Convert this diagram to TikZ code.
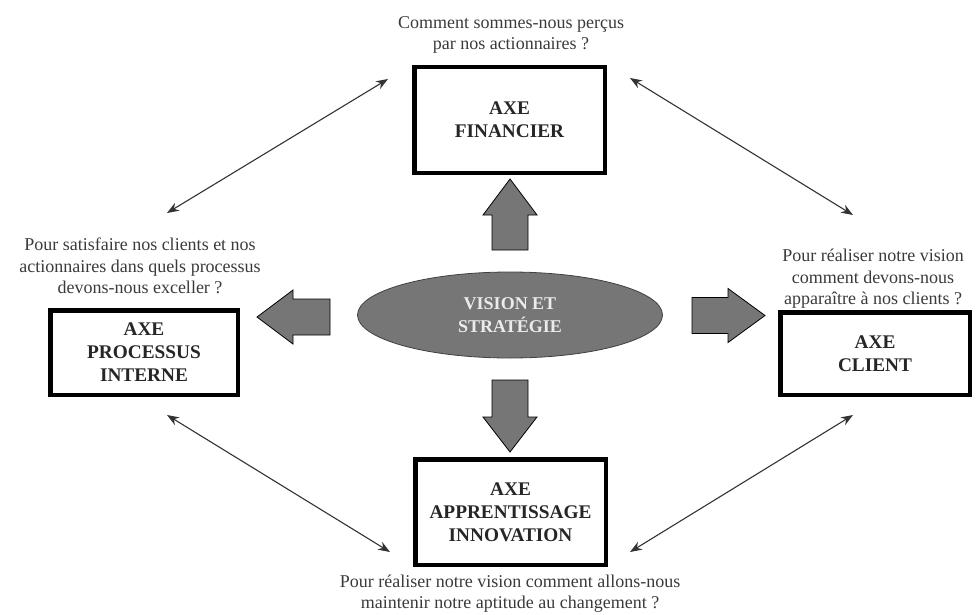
\documentclass[tikz,border=0pt]{standalone}
\usepackage{fontspec}
\setmainfont{Liberation Serif}
\usetikzlibrary{arrows.meta,shapes.geometric}
\definecolor{fatgray}{HTML}{767676}
\definecolor{txtgray}{HTML}{3A3A3A}
\begin{document}
\begin{tikzpicture}[x=1pt,y=-1pt,
  axebox/.style={draw=black, line width=4.5pt, fill=white, align=center,
    font=\bfseries\fontsize{19.3}{23}\selectfont, text=black!85, inner sep=0pt},
  question/.style={align=center, font=\fontsize{18}{21.5}\selectfont, text=txtgray, inner sep=0pt},
  fat/.style={fill=fatgray, draw=black, line width=0.8pt, line join=miter},
  link/.style={draw=black!80, line width=1.1pt,
    {Stealth[length=12pt,width=9pt]}-{Stealth[length=12pt,width=9pt]}}]
\useasboundingbox (0,0) rectangle (976,615);

% axis boxes
\node[axebox, minimum width=190.5pt, minimum height=105.5pt] (fin) at (509.5,120) {AXE\\FINANCIER};
\node[axebox, minimum width=190.5pt, minimum height=105.5pt] (app) at (510.5,512) {AXE\\APPRENTISSAGE\\INNOVATION};
\node[axebox, minimum width=187.5pt, minimum height=84.5pt] (proc) at (144,352.5) {AXE\\PROCESSUS\\INTERNE};
\node[axebox, minimum width=189.5pt, minimum height=82.5pt] (cli) at (875,353.5) {AXE\\CLIENT};

% centre
\node[ellipse, minimum width=305pt, minimum height=86pt, inner sep=0pt,
  fill=fatgray, draw=black!75, line width=0.8pt, align=center,
  text=white!92!black, font=\bfseries\fontsize{18}{23}\selectfont] (vis) at (510,315) {VISION ET\\STRATÉGIE};

% questions
\node[question] (qfin) at (511,35) {Comment sommes-nous perçus\\par nos actionnaires~?};
\node[question] (qproc) at (140,266) {Pour satisfaire nos clients et nos\\actionnaires dans quels processus\\devons-nous exceller~?};
\node[question] (qcli) at (873,279) {Pour réaliser notre vision\\comment devons-nous\\apparaître à nos clients~?};
\node[question] (qapp) at (510,593.5) {Pour réaliser notre vision comment allons-nous\\maintenir notre aptitude au changement~?};

% fat arrows
\draw[fat] (492,250) -- (492,215) -- (483,215) -- (510,179) -- (537,215) -- (528,215) -- (528,250) -- cycle;
\draw[fat] (492,380) -- (492,417) -- (483,417) -- (510,452) -- (537,417) -- (528,417) -- (528,380) -- cycle;
\draw[fat] (692,297.5) -- (728,297.5) -- (728,288.5) -- (765,315.5) -- (728,342.5) -- (728,333.5) -- (692,333.5) -- cycle;
\draw[fat] (330,299) -- (293,299) -- (293,290) -- (257,317) -- (293,344) -- (293,335) -- (330,335) -- cycle;

% thin double arrows
\coordinate (tlA) at (167,213);
\coordinate (tlB) at (388,79);
\coordinate (trA) at (630,78);
\coordinate (trB) at (853,215);
\coordinate (blA) at (167,415);
\coordinate (blB) at (390,552);
\coordinate (brA) at (630,552);
\coordinate (brB) at (853,415);
\draw[link] (tlA) -- (tlB);
\draw[link] (trA) -- (trB);
\draw[link] (blA) -- (blB);
\draw[link] (brA) -- (brB);
\end{tikzpicture}
\end{document}
